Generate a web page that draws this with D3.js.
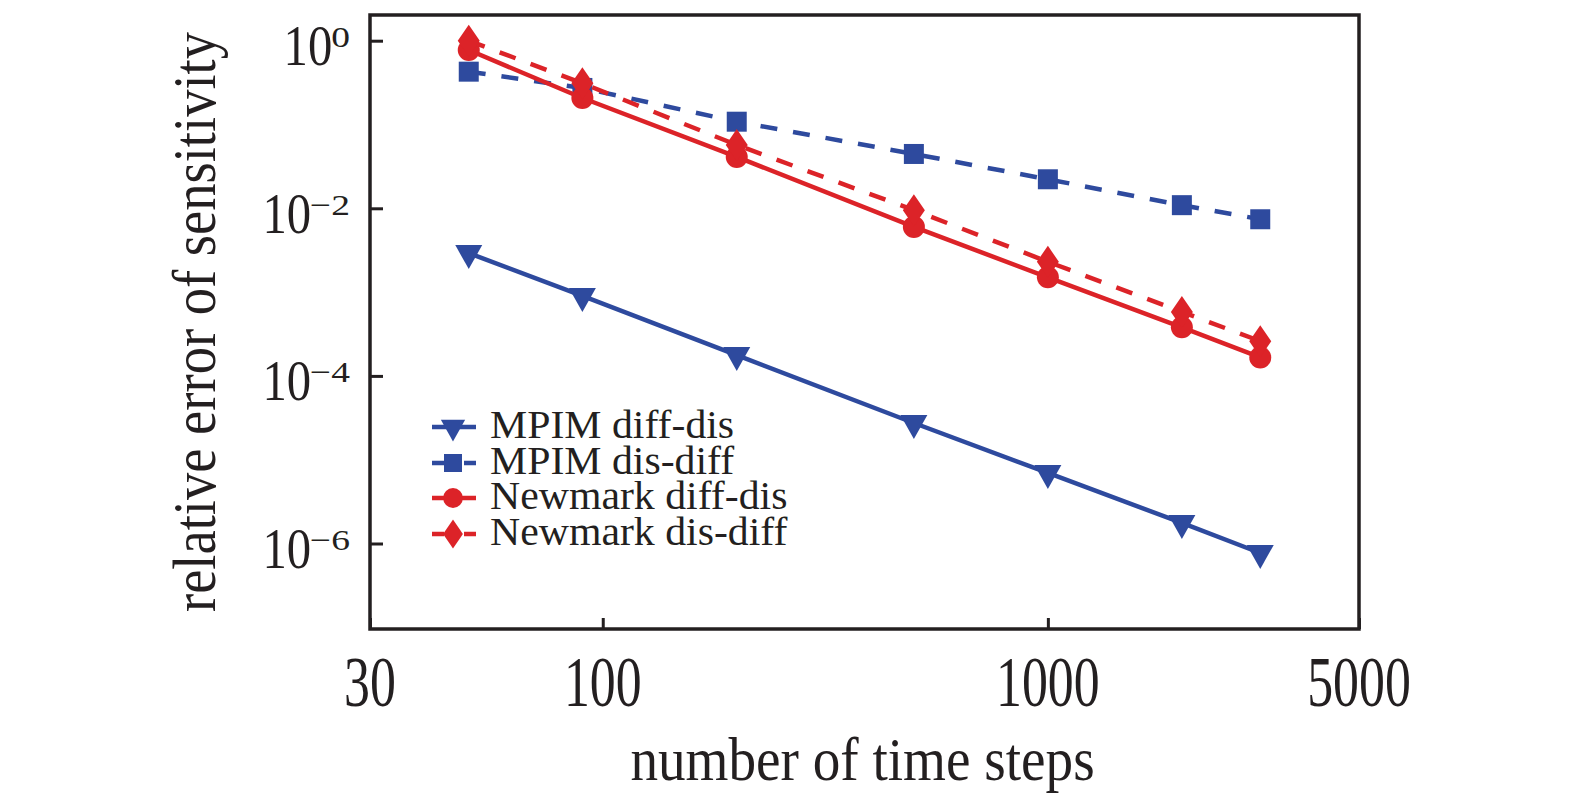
<!DOCTYPE html>
<html>
<head>
<meta charset="utf-8">
<script src="https://cdn.jsdelivr.net/npm/d3@7"></script>
<style>
  html, body { margin: 0; padding: 0; background: #fff; }
  svg { display: block; }
  text { font-family: "Liberation Serif", "Times New Roman", serif; fill: #231f20; }
</style>
</head>
<body>
<svg id="chart" width="1575" height="797"></svg>
<script>
// ---- data ----
const timeSteps = [50, 90, 200, 500, 1000, 2000, 3000];
const mpimDiffDis = [2.92e-3, 9.0e-4, 1.77e-4, 2.74e-5, 6.95e-6, 1.76e-6, 7.7e-7];
const mpimDisDiff = [0.427, 0.273, 0.108, 0.0445, 0.0222, 0.0109, 0.0074];
const newmarkDiffDis = [0.774, 0.207, 0.041, 6.0e-3, 1.5e-3, 3.8e-4, 1.66e-4];
const newmarkDisDiff = [1.0, 0.31, 0.057, 9.5e-3, 2.3e-3, 5.8e-4, 2.6e-4];
const seriesNames = ["MPIM diff-dis", "MPIM dis-diff", "Newmark diff-dis", "Newmark dis-diff"];
const xTickValues = [30, 100, 1000, 5000];
const xTickLabels = ["30", "100", "1000", "5000"];
const yTickValues = [1, 1e-2, 1e-4, 1e-6];
const yTickExponents = ["0", "\u22122", "\u22124", "\u22126"];
const xTitle = "number of time steps";
const yTitle = "relative error of sensitivity";

// ---- layout ----
const L = 370, R = 1359, T = 15, B = 629;
const BLUE = "#2e4a9e", RED = "#dc2328", INK = "#231f20";

const svg = d3.select("#chart");
const x = d3.scaleLog().domain([30, 5000]).range([L, R]);
const y = d3.scaleLog().domain([1e-7, 1]).range([627.3, 40.7]);

const series = [
  { name: seriesNames[0], values: mpimDiffDis, color: BLUE, dash: null, marker: "tri" },
  { name: seriesNames[1], values: mpimDisDiff, color: BLUE, dash: "17,16", marker: "square" },
  { name: seriesNames[2], values: newmarkDiffDis, color: RED, dash: null, marker: "circle" },
  { name: seriesNames[3], values: newmarkDisDiff, color: RED, dash: "17,16", marker: "diamond" }
];

function markerPath(type) {
  switch (type) {
    case "tri": return "M-13.5,-8L13.5,-8L0,16Z";
    case "square": return "M-10,-10H10V10H-10Z";
    case "circle": return d3.arc()({innerRadius: 0, outerRadius: 11, startAngle: 0, endAngle: 2 * Math.PI});
    case "diamond": return "M0,-16L11,0L0,16L-11,0Z";
  }
}

// ---- lines and markers ----
const line = d3.line().x(d => x(d[0])).y(d => y(d[1]));
const gData = svg.append("g");
series.forEach(s => {
  const pts = timeSteps.map((t, i) => [t, s.values[i]]);
  gData.append("path")
    .attr("d", line(pts))
    .attr("fill", "none")
    .attr("stroke", s.color)
    .attr("stroke-width", 4.5)
    .attr("stroke-dasharray", s.dash);
  gData.selectAll(null).data(pts).enter().append("path")
    .attr("d", markerPath(s.marker))
    .attr("transform", d => `translate(${x(d[0])},${y(d[1])})`)
    .attr("fill", s.color);
});

// ---- frame ----
svg.append("rect")
  .attr("x", L).attr("y", T).attr("width", R - L).attr("height", B - T)
  .attr("fill", "none").attr("stroke", INK).attr("stroke-width", 3.5);

// ---- axes (inward ticks) ----
const xAxis = d3.axisBottom(x).tickValues(xTickValues).tickSize(-11).tickFormat("");
const gx = svg.append("g").attr("transform", `translate(0,${B})`).call(xAxis);
gx.select(".domain").remove();
gx.selectAll("line").attr("stroke", INK).attr("stroke-width", 3);

const yAxis = d3.axisLeft(y).tickValues(yTickValues).tickSize(-13).tickFormat("");
const gy = svg.append("g").attr("transform", `translate(${L},0)`).call(yAxis);
gy.select(".domain").remove();
gy.selectAll("line").attr("stroke", INK).attr("stroke-width", 3);

// x tick labels (condensed)
xTickValues.forEach((v, i) => {
  svg.append("text")
    .attr("transform", `translate(${x(v)},706) scale(0.72,1)`)
    .attr("text-anchor", "middle")
    .attr("font-size", 72)
    .text(xTickLabels[i]);
});

// y tick labels: 10 with superscript exponent
yTickValues.forEach((v, i) => {
  const yy = y(v);
  const right = 350;
  const sup = svg.append("text")
    .attr("transform", `translate(${right},${yy + 6.5}) scale(1.25,1)`)
    .attr("text-anchor", "end")
    .attr("font-size", 30)
    .text(yTickExponents[i]);
  const supW = sup.node().getComputedTextLength() * 1.25;
  svg.append("text")
    .attr("transform", `translate(${right - supW + 1},${yy + 24.5}) scale(0.84,1)`)
    .attr("text-anchor", "end")
    .attr("font-size", 58)
    .text("10");
});

// axis titles
svg.append("text")
  .attr("transform", `translate(${(L + R) / 2 - 2},780) scale(0.89,1)`)
  .attr("text-anchor", "middle")
  .attr("font-size", 62)
  .text(xTitle);

svg.append("text")
  .attr("transform", `translate(215,${(T + B) / 2}) rotate(-90) scale(0.88,1)`)
  .attr("text-anchor", "middle")
  .attr("font-size", 62)
  .text(yTitle);

// ---- legend ----
const legRows = [427, 463, 498, 534];
const gLeg = svg.append("g");
series.forEach((s, i) => {
  const ly = legRows[i];
  gLeg.append("line")
    .attr("x1", 432).attr("x2", 476).attr("y1", ly).attr("y2", ly)
    .attr("stroke", s.color).attr("stroke-width", 4.5)
    .attr("stroke-dasharray", s.dash ? "12,20,12" : null);
  gLeg.append("path")
    .attr("d", markerPath(s.marker))
    .attr("transform", `translate(453,${ly}) scale(0.9)`)
    .attr("fill", s.color);
  gLeg.append("text")
    .attr("transform", `translate(490,${ly + 11}) scale(1.045,1)`)
    .attr("font-size", 40)
    .text(s.name);
});
</script>
</body>
</html>
